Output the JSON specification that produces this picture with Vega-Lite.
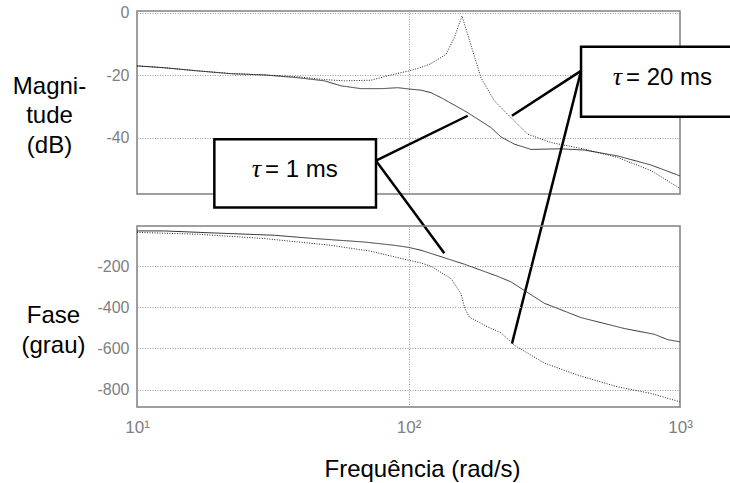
{
  "$schema": "https://vega.github.io/schema/vega-lite/v6.json",
  "background": "white",
  "padding": {"left": 11, "top": 4, "right": 0, "bottom": 0},
  "autosize": {"type": "pad"},
  "bounds": "flush",
  "spacing": 32,
  "config": {
    "view": {"stroke": "#808080", "strokeWidth": 1.5},
    "font": "Liberation Sans",
    "axis": {
      "grid": true, "gridColor": "#9a9a9a", "gridDash": [1, 1.5], "gridWidth": 1,
      "ticks": false, "domain": false, "labelFlush": false, "labelOverlap": false,
      "labelColor": "#808080", "labelFontSize": 15, "labelFont": "Liberation Sans",
      "titleFont": "Liberation Sans", "titleFontSize": 24, "titleFontWeight": "normal", "titleColor": "black"
    }
  },
  "datasets": {
    "mag": [
      {"f": 10, "db": -17.0, "serie": "τ = 1 ms"}, {"f": 12.6, "db": -17.6, "serie": "τ = 1 ms"}, {"f": 16.7, "db": -18.6, "serie": "τ = 1 ms"},
      {"f": 22.2, "db": -19.5, "serie": "τ = 1 ms"}, {"f": 29.4, "db": -19.9, "serie": "τ = 1 ms"}, {"f": 39.1, "db": -20.8, "serie": "τ = 1 ms"},
      {"f": 49.0, "db": -21.8, "serie": "τ = 1 ms"}, {"f": 56.4, "db": -23.4, "serie": "τ = 1 ms"}, {"f": 66.8, "db": -24.3, "serie": "τ = 1 ms"},
      {"f": 80, "db": -24.3, "serie": "τ = 1 ms"}, {"f": 91.2, "db": -24.0, "serie": "τ = 1 ms"}, {"f": 100, "db": -24.4, "serie": "τ = 1 ms"},
      {"f": 111.2, "db": -24.8, "serie": "τ = 1 ms"}, {"f": 121, "db": -25.6, "serie": "τ = 1 ms"}, {"f": 131.8, "db": -27.2, "serie": "τ = 1 ms"},
      {"f": 165.2, "db": -32.0, "serie": "τ = 1 ms"}, {"f": 201.3, "db": -36.8, "serie": "τ = 1 ms"}, {"f": 219.1, "db": -39.8, "serie": "τ = 1 ms"},
      {"f": 245.3, "db": -42.1, "serie": "τ = 1 ms"}, {"f": 282.7, "db": -43.8, "serie": "τ = 1 ms"}, {"f": 364.6, "db": -43.6, "serie": "τ = 1 ms"},
      {"f": 444.2, "db": -44.0, "serie": "τ = 1 ms"}, {"f": 589.6, "db": -45.9, "serie": "τ = 1 ms"}, {"f": 782, "db": -48.8, "serie": "τ = 1 ms"},
      {"f": 1000, "db": -52.3, "serie": "τ = 1 ms"},
      {"f": 10, "db": -17.0, "serie": "τ = 20 ms"}, {"f": 12.6, "db": -17.6, "serie": "τ = 20 ms"}, {"f": 16.7, "db": -18.6, "serie": "τ = 20 ms"},
      {"f": 22.2, "db": -19.5, "serie": "τ = 20 ms"}, {"f": 29.4, "db": -19.9, "serie": "τ = 20 ms"}, {"f": 39.1, "db": -20.5, "serie": "τ = 20 ms"},
      {"f": 49.0, "db": -21.4, "serie": "τ = 20 ms"}, {"f": 58.0, "db": -21.8, "serie": "τ = 20 ms"}, {"f": 72.8, "db": -21.6, "serie": "τ = 20 ms"},
      {"f": 86.2, "db": -19.9, "serie": "τ = 20 ms"}, {"f": 100.4, "db": -18.6, "serie": "τ = 20 ms"}, {"f": 111.2, "db": -17.5, "serie": "τ = 20 ms"},
      {"f": 121, "db": -16.3, "serie": "τ = 20 ms"}, {"f": 137.5, "db": -13.3, "serie": "τ = 20 ms"}, {"f": 147.5, "db": -7.9, "serie": "τ = 20 ms"},
      {"f": 151.8, "db": -4.8, "serie": "τ = 20 ms"}, {"f": 157.4, "db": -1.0, "serie": "τ = 20 ms"}, {"f": 165.2, "db": -6.9, "serie": "τ = 20 ms"},
      {"f": 172.4, "db": -12.2, "serie": "τ = 20 ms"}, {"f": 184.9, "db": -20.8, "serie": "τ = 20 ms"}, {"f": 207, "db": -28.2, "serie": "τ = 20 ms"},
      {"f": 238.5, "db": -33.6, "serie": "τ = 20 ms"}, {"f": 274.8, "db": -38.9, "serie": "τ = 20 ms"}, {"f": 334.9, "db": -41.6, "serie": "τ = 20 ms"},
      {"f": 444.2, "db": -43.7, "serie": "τ = 20 ms"}, {"f": 589.6, "db": -46.4, "serie": "τ = 20 ms"}, {"f": 782, "db": -50.6, "serie": "τ = 20 ms"},
      {"f": 1000, "db": -56.3, "serie": "τ = 20 ms"}
    ],
    "phase": [
      {"f": 10, "deg": -28, "serie": "τ = 1 ms"}, {"f": 12.6, "deg": -28, "serie": "τ = 1 ms"}, {"f": 19.3, "deg": -38, "serie": "τ = 1 ms"},
      {"f": 32.0, "deg": -49, "serie": "τ = 1 ms"}, {"f": 45.0, "deg": -65, "serie": "τ = 1 ms"}, {"f": 68.8, "deg": -82, "serie": "τ = 1 ms"},
      {"f": 88.7, "deg": -98, "serie": "τ = 1 ms"}, {"f": 100, "deg": -108, "serie": "τ = 1 ms"}, {"f": 111.2, "deg": -122, "serie": "τ = 1 ms"},
      {"f": 160.6, "deg": -190, "serie": "τ = 1 ms"}, {"f": 213.1, "deg": -249, "serie": "τ = 1 ms"}, {"f": 238.5, "deg": -276, "serie": "τ = 1 ms"},
      {"f": 280, "deg": -335, "serie": "τ = 1 ms"}, {"f": 316.4, "deg": -380, "serie": "τ = 1 ms"}, {"f": 432.1, "deg": -450, "serie": "τ = 1 ms"},
      {"f": 623.5, "deg": -503, "serie": "τ = 1 ms"},
      {"f": 804, "deg": -531, "serie": "τ = 1 ms"}, {"f": 901, "deg": -557, "serie": "τ = 1 ms"}, {"f": 1000, "deg": -568, "serie": "τ = 1 ms"},
      {"f": 10, "deg": -35, "serie": "τ = 20 ms"}, {"f": 16.7, "deg": -44, "serie": "τ = 20 ms"}, {"f": 29.4, "deg": -65, "serie": "τ = 20 ms"},
      {"f": 51.8, "deg": -98, "serie": "τ = 20 ms"}, {"f": 72.8, "deg": -127, "serie": "τ = 20 ms"}, {"f": 100.4, "deg": -171, "serie": "τ = 20 ms"},
      {"f": 111.2, "deg": -184, "serie": "τ = 20 ms"}, {"f": 121, "deg": -200, "serie": "τ = 20 ms"}, {"f": 143.4, "deg": -260, "serie": "τ = 20 ms"},
      {"f": 156.1, "deg": -333, "serie": "τ = 20 ms"}, {"f": 160.6, "deg": -398, "serie": "τ = 20 ms"}, {"f": 167.3, "deg": -447, "serie": "τ = 20 ms"},
      {"f": 195.7, "deg": -495, "serie": "τ = 20 ms"}, {"f": 219.1, "deg": -524, "serie": "τ = 20 ms"}, {"f": 245.3, "deg": -584, "serie": "τ = 20 ms"},
      {"f": 316.4, "deg": -671, "serie": "τ = 20 ms"}, {"f": 420.1, "deg": -730, "serie": "τ = 20 ms"}, {"f": 589.6, "deg": -787, "serie": "τ = 20 ms"},
      {"f": 782, "deg": -819, "serie": "τ = 20 ms"}, {"f": 1000, "deg": -860, "serie": "τ = 20 ms"}
    ],
    "leaders": [
      {"xa": 75.9, "ya": -47.4, "xb": 165.2, "yb": -33.0},
      {"xa": 75.9, "ya": -47.4, "xb": 135.5, "yb": -77.1},
      {"xa": 432, "ya": -18.6, "xb": 240.5, "yb": -33.0},
      {"xa": 432, "ya": -18.6, "xb": 240.5, "yb": -106.1}
    ],
    "boxes": [
      {"xa": 19.27, "xb": 75.9, "ya": -40.5, "yb": -62.4},
      {"xa": 432, "xb": 1600, "ya": -10.9, "yb": -33.3}
    ],
    "labels": [
      {"x": 29.6, "y": -52.8, "label": "= 1 ms"},
      {"x": 632.5, "y": -23.1, "label": "= 20 ms"}
    ]
  },
  "vconcat": [
    {
      "width": 543,
      "height": 183,
      "layer": [
        {
          "data": {"name": "mag"},
          "mark": {"type": "line", "strokeWidth": 1},
          "encoding": {
            "x": {"field": "f", "type": "quantitative",
              "scale": {"type": "log", "domain": [10, 1000]},
              "axis": {"values": [10, 100, 1000], "labels": false, "title": null}},
            "y": {"field": "db", "type": "quantitative",
              "scale": {"domain": [-58.1, 0.6], "nice": false, "zero": false},
              "axis": {"values": [0, -20, -40], "labelPadding": 8, "labelFontSize": 16,
                "labelExpr": "'' + datum.value",
                "title": ["Magni-", "tude", "(dB)"], "titleAngle": 0, "titleAlign": "center",
                "titleBaseline": "alphabetic", "titleX": -88, "titleY": 82, "titleLineHeight": 29.5}},
            "strokeDash": {"field": "serie", "type": "nominal",
              "scale": {"domain": ["τ = 1 ms", "τ = 20 ms"], "range": [[1, 0], [1, 1.5]]}, "legend": null},
            "color": {"field": "serie", "type": "nominal",
              "scale": {"domain": ["τ = 1 ms", "τ = 20 ms"], "range": ["#333333", "#222222"]}, "legend": null}
          }
        },
        {
          "data": {"name": "leaders"},
          "mark": {"type": "rule", "strokeWidth": 2.5, "color": "black"},
          "encoding": {
            "x": {"field": "xa", "type": "quantitative"},
            "y": {"field": "ya", "type": "quantitative"},
            "x2": {"field": "xb"},
            "y2": {"field": "yb"}
          }
        },
        {
          "data": {"name": "boxes"},
          "mark": {"type": "rect", "fill": "white", "stroke": "black", "strokeWidth": 2.5},
          "encoding": {
            "x": {"field": "xa", "type": "quantitative"},
            "y": {"field": "ya", "type": "quantitative"},
            "x2": {"field": "xb"},
            "y2": {"field": "yb"}
          }
        },
        {
          "data": {"name": "labels"},
          "mark": {"type": "text", "font": "Liberation Serif", "fontStyle": "italic", "fontSize": 26, "align": "right", "baseline": "alphabetic", "dx": -4, "color": "black"},
          "encoding": {
            "x": {"field": "x", "type": "quantitative"},
            "y": {"field": "y", "type": "quantitative"},
            "text": {"value": "τ"}
          }
        },
        {
          "data": {"name": "labels"},
          "mark": {"type": "text", "font": "Liberation Sans", "fontSize": 24, "align": "left", "baseline": "alphabetic", "color": "black"},
          "encoding": {
            "x": {"field": "x", "type": "quantitative"},
            "y": {"field": "y", "type": "quantitative"},
            "text": {"field": "label"}
          }
        }
      ]
    },
    {
      "width": 543,
      "height": 181,
      "data": {"name": "phase"},
      "mark": {"type": "line", "strokeWidth": 1},
      "encoding": {
        "x": {"field": "f", "type": "quantitative",
          "scale": {"type": "log", "domain": [10, 1000]},
          "axis": {"values": [10, 100, 1000], "labelPadding": 12, "labelFontSize": 17,
            "labelExpr": "datum.value == 10 ? '10¹' : datum.value == 100 ? '10²' : '10³'",
            "title": "Frequência (rad/s)", "titleAlign": "left", "titleBaseline": "alphabetic",
            "titleX": 187, "titleY": 69}},
        "y": {"field": "deg", "type": "quantitative",
          "scale": {"domain": [-885, -4], "nice": false, "zero": false},
          "axis": {"values": [-200, -400, -600, -800], "labelPadding": 8, "labelFontSize": 16,
            "labelExpr": "'' + datum.value",
            "title": ["Fase", "(grau)"], "titleAngle": 0, "titleAlign": "center",
            "titleBaseline": "alphabetic", "titleX": -84, "titleY": 96, "titleLineHeight": 30}},
        "strokeDash": {"field": "serie", "type": "nominal",
          "scale": {"domain": ["τ = 1 ms", "τ = 20 ms"], "range": [[1, 0], [1, 1.5]]}, "legend": null},
        "color": {"field": "serie", "type": "nominal",
          "scale": {"domain": ["τ = 1 ms", "τ = 20 ms"], "range": ["#333333", "#222222"]}, "legend": null}
      }
    }
  ]
}
